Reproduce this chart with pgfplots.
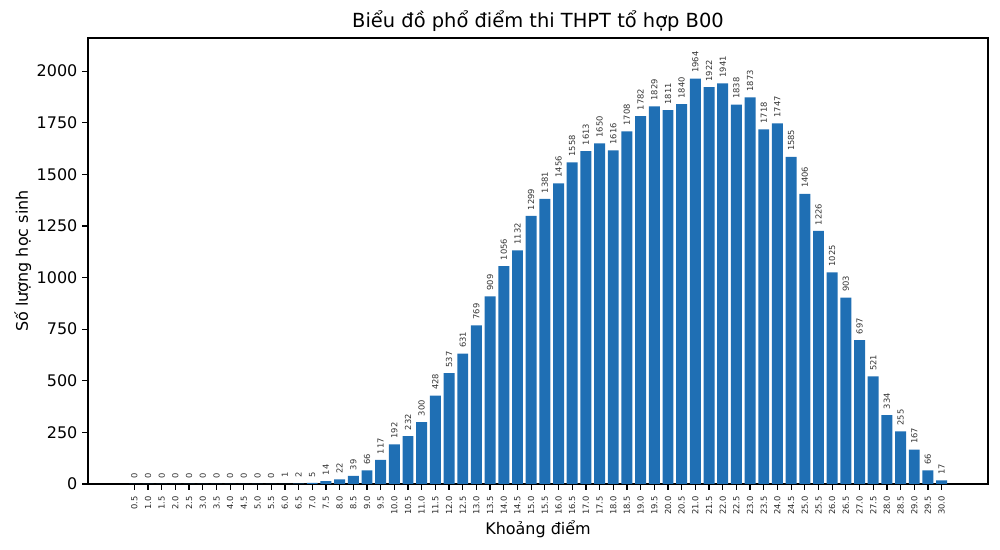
\documentclass[border=0pt]{standalone}
\usepackage{pgfplots}
\pgfplotsset{compat=1.18}
\usepackage{pgfplotstable}
\usepackage{fontspec}
\setmainfont{DejaVu Sans}
\definecolor{barblue}{HTML}{1F6FB4}
\pgfplotstableread{
x y
0 0
1 0
2 0
3 0
4 0
5 0
6 0
7 0
8 0
9 0
10 0
11 1
12 2
13 5
14 14
15 22
16 39
17 66
18 117
19 192
20 232
21 300
22 428
23 537
24 631
25 769
26 909
27 1056
28 1132
29 1299
30 1381
31 1456
32 1558
33 1613
34 1650
35 1616
36 1708
37 1782
38 1829
39 1811
40 1840
41 1964
42 1922
43 1941
44 1838
45 1873
46 1718
47 1747
48 1585
49 1406
50 1226
51 1025
52 903
53 697
54 521
55 334
56 255
57 167
58 66
59 17
}\datatable
\begin{document}
\begin{tikzpicture}
\path (0,0) rectangle (720pt,396pt);
\begin{axis}[
  at={(63.36pt,47.52pt)}, anchor=south west,
  scale only axis, width=648pt, height=321.1pt,
  xmin=-3.39, xmax=62.39, ymin=0, ymax=2160.4,
  ybar, bar width=0.8, bar shift=0pt,
  axis line style={line width=0.9pt},
  tick style={line width=0.9pt, black},
  major tick length=4.1pt,
  tick align=outside,
  xtick pos=bottom, ytick pos=left,
  xtick={0,...,59},
  xticklabels={0.5,1.0,1.5,2.0,2.5,3.0,3.5,4.0,4.5,5.0,5.5,6.0,6.5,7.0,7.5,8.0,8.5,9.0,9.5,10.0,10.5,11.0,11.5,12.0,12.5,13.0,13.5,14.0,14.5,15.0,15.5,16.0,16.5,17.0,17.5,18.0,18.5,19.0,19.5,20.0,20.5,21.0,21.5,22.0,22.5,23.0,23.5,24.0,24.5,25.0,25.5,26.0,26.5,27.0,27.5,28.0,28.5,29.0,29.5,30.0},
  xticklabel style={rotate=90, anchor=east, font=\fontsize{6}{7}\selectfont, inner xsep=4.5pt, inner ysep=1pt, black!85},
  ytick={0,250,...,2000},
  yticklabel style={font=\fontsize{11.5}{13}\selectfont},
  /pgf/number format/assume math mode=true,
  /pgf/number format/1000 sep={},
  title={Biểu đồ phổ điểm thi THPT tổ hợp B00},
  title style={font=\fontsize{14}{16}\selectfont, yshift=-5pt},
  xlabel={Khoảng điểm},
  xlabel style={font=\fontsize{11.5}{13}\selectfont, yshift=4pt},
  ylabel={Số lượng học sinh},
  ylabel style={font=\fontsize{11.5}{13}\selectfont, yshift=-2.8pt},
  point meta=explicit symbolic,
  nodes near coords,
  nodes near coords style={rotate=90, anchor=west, font=\fontsize{6}{7}\selectfont, black!80, inner xsep=4pt, inner ysep=1pt},
]
\addplot[fill=barblue, draw=none] table[x=x, y=y, meta=y] {\datatable};
\end{axis}
\pgfresetboundingbox
\path[use as bounding box] (0,0) rectangle (720pt,396pt);
\end{tikzpicture}
\end{document}
